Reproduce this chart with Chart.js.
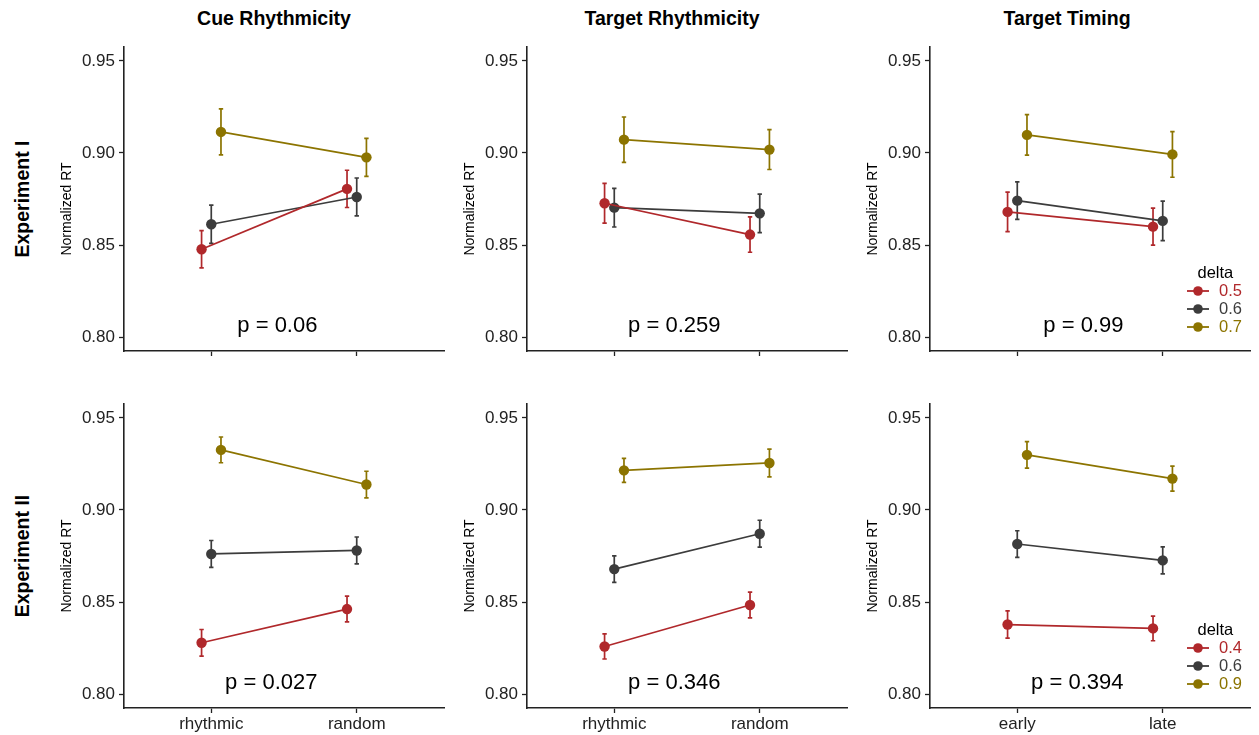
<!DOCTYPE html>
<html><head><meta charset="utf-8">
<script src="https://cdn.jsdelivr.net/npm/chart.js@4"></script>
<style>
html,body{margin:0;padding:0;background:#fff;}
#wrap{position:relative;width:1259px;height:735px;overflow:hidden;font-family:"Liberation Sans",Arial,sans-serif;}
.ttl{position:absolute;font-weight:bold;font-size:19.5px;color:#000;transform:translate(-50%,-50%);white-space:nowrap;}
.rowlab{position:absolute;font-weight:bold;font-size:19.5px;color:#000;transform:translate(-50%,-50%) rotate(-90deg);white-space:nowrap;}
canvas{position:absolute;}
</style></head><body><div id="wrap"></div>
<script>
// ---- data ----
const panelTitles = ['Cue Rhythmicity', 'Target Rhythmicity', 'Target Timing'];
const rowLabels = ['Experiment I', 'Experiment II'];
const catsRhythm = ['rhythmic', 'random'];
const catsTiming = ['early', 'late'];
const deltaExp1 = ['0.5', '0.6', '0.7'];
const deltaExp2 = ['0.4', '0.6', '0.9'];
const yTicks = [0.80, 0.85, 0.90, 0.95];
const yTitle = 'Normalized RT';

// means [delta][category], error half-widths [delta][category]
const cueExp1Mean = [[0.8477, 0.8805], [0.8613, 0.8761], [0.9114, 0.8976]];
const cueExp1Err  = [[0.0101, 0.0101], [0.0104, 0.0103], [0.0125, 0.0103]];
const tgtExp1Mean = [[0.8727, 0.8557], [0.8703, 0.8672], [0.9072, 0.9018]];
const tgtExp1Err  = [[0.0108, 0.0096], [0.0105, 0.0105], [0.0123, 0.0108]];
const timExp1Mean = [[0.8680, 0.8600], [0.8741, 0.8631], [0.9098, 0.8992]];
const timExp1Err  = [[0.0107, 0.0100], [0.0102, 0.0107], [0.0110, 0.0124]];
const cueExp2Mean = [[0.8279, 0.8462], [0.8761, 0.8780], [0.9326, 0.9138]];
const cueExp2Err  = [[0.0072, 0.0070], [0.0073, 0.0073], [0.0070, 0.0072]];
const tgtExp2Mean = [[0.8259, 0.8484], [0.8679, 0.8871], [0.9215, 0.9255]];
const tgtExp2Err  = [[0.0068, 0.0070], [0.0072, 0.0073], [0.0065, 0.0075]];
const timExp2Mean = [[0.8378, 0.8357], [0.8815, 0.8726], [0.9299, 0.9170]];
const timExp2Err  = [[0.0074, 0.0067], [0.0072, 0.0073], [0.0072, 0.0068]];
const pValues = ['0.06', '0.259', '0.99', '0.027', '0.346', '0.394'];

// ---- style ----
const FONT = '"Liberation Sans", Arial, sans-serif';
const colors = ['#B0282B', '#3C3C3C', '#8C7400'];
const dodge = [-0.0667, 0, 0.0667];
const AX = '#222';
const colLeft = [124, 527, 930];
const rowTop = [47, 403.5];
const PLOT_W = 320, PLOT_H = 304;
const AXIS_W = 75, PAD_T = 8, PAD_R = 10;

const panels = [
  {cats: catsRhythm, deltas: deltaExp1, mean: cueExp1Mean, err: cueExp1Err},
  {cats: catsRhythm, deltas: deltaExp1, mean: tgtExp1Mean, err: tgtExp1Err},
  {cats: catsTiming, deltas: deltaExp1, mean: timExp1Mean, err: timExp1Err, legend: true},
  {cats: catsRhythm, deltas: deltaExp2, mean: cueExp2Mean, err: cueExp2Err},
  {cats: catsRhythm, deltas: deltaExp2, mean: tgtExp2Mean, err: tgtExp2Err},
  {cats: catsTiming, deltas: deltaExp2, mean: timExp2Mean, err: timExp2Err, legend: true},
];

const wrap = document.getElementById('wrap');
panelTitles.forEach((t, c) => {
  const d = document.createElement('div'); d.className = 'ttl'; d.textContent = t;
  d.style.left = [274, 672, 1067][c] + 'px'; d.style.top = '18px'; wrap.appendChild(d);
});
rowLabels.forEach((t, r) => {
  const d = document.createElement('div'); d.className = 'rowlab'; d.textContent = t;
  d.style.left = '22px'; d.style.top = (rowTop[r] + PLOT_H / 2) + 'px'; wrap.appendChild(d);
});

const errorBars = {
  id: 'errorBars',
  beforeDatasetsDraw(chart) {
    const {ctx, scales: {x, y}} = chart;
    chart.data.datasets.forEach(ds => {
      ctx.save(); ctx.strokeStyle = ds.borderColor; ctx.lineWidth = 1.7;
      ds.data.forEach((pt, j) => {
        const px = x.getPixelForValue(pt.x);
        const y1 = y.getPixelForValue(pt.y - ds.err[j]);
        const y2 = y.getPixelForValue(pt.y + ds.err[j]);
        ctx.beginPath();
        ctx.moveTo(px, y1); ctx.lineTo(px, y2);
        ctx.moveTo(px - 2.2, y1); ctx.lineTo(px + 2.2, y1);
        ctx.moveTo(px - 2.2, y2); ctx.lineTo(px + 2.2, y2);
        ctx.stroke();
      });
      ctx.restore();
    });
  }
};

const annotations = {
  id: 'annotations',
  afterDraw(chart, args, opts) {
    const {ctx, chartArea: a, scales: {x, y}} = chart;
    ctx.save();
    ctx.fillStyle = '#000';
    ctx.font = '14px ' + FONT;
    ctx.textAlign = 'center'; ctx.textBaseline = 'middle';
    ctx.translate(a.left - 57, (a.top + a.bottom) / 2 + 10);
    ctx.rotate(-Math.PI / 2);
    ctx.fillText(yTitle, 0, 0);
    ctx.restore();
    ctx.save();
    ctx.fillStyle = '#000';
    ctx.font = '22px ' + FONT;
    ctx.textAlign = 'right'; ctx.textBaseline = 'middle';
    ctx.fillText('p = ' + opts.p, x.getPixelForValue(1.73), y.getPixelForValue(0.8063));
    ctx.restore();
    if (opts.legend) {
      ctx.save();
      const sx = a.left + 268;
      ctx.font = '16.5px ' + FONT;
      ctx.textBaseline = 'middle'; ctx.textAlign = 'left';
      ctx.fillStyle = '#000';
      ctx.fillText('delta', a.left + 267.5, a.top + 226.5);
      chart.data.datasets.forEach((ds, k) => {
        const yy = a.top + 244 + k * 18;
        ctx.strokeStyle = ds.borderColor; ctx.lineWidth = 1.8;
        ctx.beginPath(); ctx.moveTo(sx - 11, yy); ctx.lineTo(sx + 11, yy); ctx.stroke();
        ctx.fillStyle = ds.borderColor;
        ctx.beginPath(); ctx.arc(sx, yy, 4.8, 0, Math.PI * 2); ctx.fill();
        ctx.fillText(ds.label, a.left + 289, yy);
      });
      ctx.restore();
    }
  }
};

panels.forEach((p, i) => {
  const r = Math.floor(i / 3), c = i % 3;
  const xAxisH = r === 1 ? 32 : 6;
  const W = AXIS_W + PLOT_W + PAD_R, H = PAD_T + PLOT_H + xAxisH;
  const cv = document.createElement('canvas');
  cv.width = W; cv.height = H;
  cv.style.left = (colLeft[c] - AXIS_W) + 'px';
  cv.style.top = (rowTop[r] - PAD_T) + 'px';
  cv.style.width = W + 'px'; cv.style.height = H + 'px';
  wrap.appendChild(cv);

  const datasets = p.deltas.map((d, k) => ({
    label: d,
    data: p.cats.map((cat, j) => ({x: j + 1 + dodge[k], y: p.mean[k][j]})),
    err: p.err[k],
    borderColor: colors[k], backgroundColor: colors[k],
    borderWidth: 1.7, pointRadius: 5.2, pointHoverRadius: 5.2, pointBorderWidth: 0,
    tension: 0, fill: false
  }));

  new Chart(cv, {
    type: 'line',
    data: {datasets},
    plugins: [errorBars, annotations],
    options: {
      responsive: false, animation: false, devicePixelRatio: 1,
      layout: {padding: {left: 0, top: PAD_T, right: PAD_R, bottom: 0}},
      plugins: {
        legend: {display: false}, tooltip: {enabled: false},
        annotations: {p: pValues[i], legend: !!p.legend}
      },
      scales: {
        x: {
          type: 'linear', min: 0.4, max: 2.6,
          afterBuildTicks: s => { s.ticks = p.cats.map((_, j) => ({value: j + 1})); },
          afterFit: s => { s.height = xAxisH; s.paddingLeft = 0; s.paddingRight = 0; },
          ticks: {
            callback: (v, idx) => r === 1 ? p.cats[idx] : '',
            font: {family: FONT, size: 17}, color: AX, padding: 1, maxRotation: 0, autoSkip: false
          },
          grid: {drawOnChartArea: false, drawTicks: true, tickLength: 5, tickColor: AX, tickWidth: 1.3},
          border: {display: true, color: AX, width: 1.6}
        },
        y: {
          type: 'linear', min: 0.7925, max: 0.9575,
          afterBuildTicks: s => { s.ticks = yTicks.map(v => ({value: v})); },
          afterFit: s => { s.width = AXIS_W; s.paddingTop = 0; s.paddingBottom = 0; },
          ticks: {
            callback: (v, idx) => yTicks[idx].toFixed(2),
            font: {family: FONT, size: 17}, color: AX, padding: 4
          },
          grid: {drawOnChartArea: false, drawTicks: true, tickLength: 5, tickColor: AX, tickWidth: 1.3},
          border: {display: true, color: AX, width: 1.6}
        }
      }
    }
  });
});
</script></body></html>
